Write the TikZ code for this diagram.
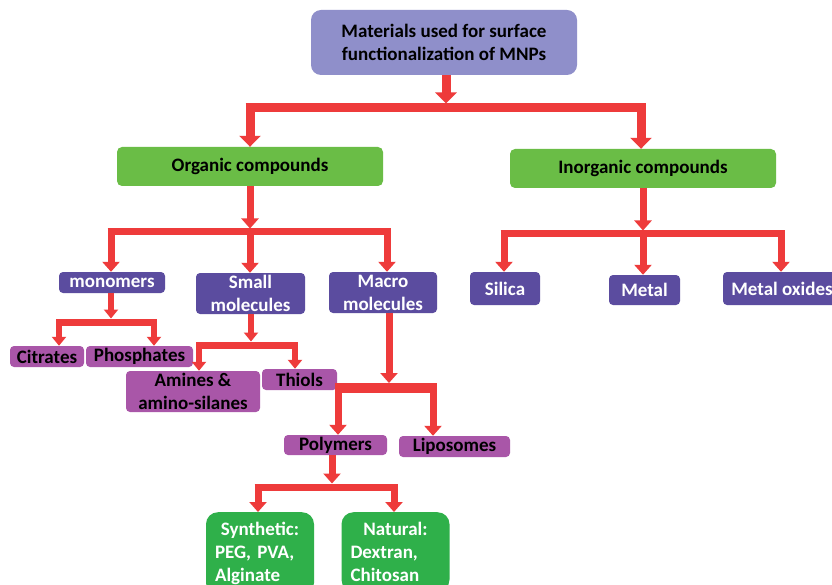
\documentclass[tikz,border=0pt]{standalone}
\usepackage{fontspec}
\setmainfont{Carlito}
\usetikzlibrary{arrows.meta}
\definecolor{arrred}{HTML}{EE3B3B}
\definecolor{topblue}{HTML}{8F8FCA}
\definecolor{orggreen}{HTML}{6ABD46}
\definecolor{deepgreen}{HTML}{2FB04A}
\definecolor{violetbox}{HTML}{5B4C9F}
\definecolor{magbox}{HTML}{A956A8}
\tikzset{
  box/.style={rounded corners=4pt, inner sep=0pt, align=center,
    font=\fontsize{19}{23}\selectfont\bfseries},
  topbox/.style={box, fill=topblue, text=black, rounded corners=10pt},
  greenbox/.style={box, fill=orggreen, text=black, rounded corners=5pt},
  vbox/.style={box, fill=violetbox, text=white},
  mbox/.style={box, fill=magbox, text=black},
  leafbox/.style={box, fill=deepgreen, text=white, rounded corners=12pt,
    anchor=north, align=left, inner xsep=9pt, inner ysep=10pt, text width=90pt},
  bigbar/.style={draw=arrred, line width=9pt},
  bar/.style={draw=arrred, line width=7pt},
  thickbar/.style={draw=arrred, line width=10pt},
  bigarr/.style={draw=arrred, line width=9pt, -{Triangle[width=21pt,length=11pt]}},
  arr/.style={draw=arrred, line width=7pt, -{Triangle[width=17pt,length=10pt]}},
  smallarr/.style={draw=arrred, line width=6pt, -{Triangle[width=14pt,length=9pt]}}
}
\begin{document}
\begin{tikzpicture}[x=1pt,y=-1pt]
\useasboundingbox (0,0) rectangle (832,585);
\clip (0,0) rectangle (832,585);
\fill[white] (0,0) rectangle (832,585);

% nodes
\node[topbox, minimum width=266pt, minimum height=65pt] (top) at (444,42.5)
  {Materials used for surface\\functionalization of MNPs};
\node[greenbox, minimum width=266pt, minimum height=39pt] (org) at (250,166.5) {Organic compounds};
\node[greenbox, minimum width=266pt, minimum height=39pt] (inorg) at (643,168.5) {Inorganic compounds};

\node[vbox, minimum width=106pt, minimum height=21pt] (mono) at (112,282.5) {monomers};
\node[vbox, minimum width=109pt, minimum height=41pt] (small) at (250.5,293.5) {Small\\molecules};
\node[vbox, minimum width=108pt, minimum height=41pt] (macro) at (383,292.5) {Macro\\molecules};
\node[vbox, minimum width=70pt, minimum height=33pt] (silica) at (505,288.5) {Silica};
\node[vbox, minimum width=71pt, minimum height=30pt] (metal) at (644.5,290) {Metal};
\node[vbox, minimum width=118pt, minimum height=33pt] (oxides) at (782,288.5) {Metal oxides};

\node[mbox, minimum width=74pt, minimum height=21pt] (citr) at (47,356.5) {Citrates};
\node[mbox, minimum width=107pt, minimum height=21pt] (phos) at (139.5,356.5) {Phosphates};
\node[mbox, minimum width=134pt, minimum height=41pt] (amin) at (193,391.5) {Amines \&\\amino-silanes};
\node[mbox, minimum width=75pt, minimum height=21pt] (thiol) at (299.5,379.5) {Thiols};
\node[mbox, minimum width=103pt, minimum height=20pt] (poly) at (335.5,445) {Polymers};
\node[mbox, minimum width=111pt, minimum height=21pt] (lipo) at (454.5,446.5) {Liposomes};

\node[leafbox] (synth) at (260,512)
  {\makebox[\linewidth]{Synthetic:}\\PEG, PVA,\\Alginate};
\node[leafbox] (natur) at (395.5,512)
  {\makebox[\linewidth]{Natural:}\\Dextran,\\Chitosan};

% level 1
\coordinate (j1) at (446,103.5);
\coordinate (b1l) at (250,108);
\coordinate (b1r) at (641,108);
\draw[bigarr] (top.south -| j1) -- (j1);
\draw[bigbar] ([xshift=-4.5pt]b1l) -- ([xshift=4.5pt]b1r);
\draw[bigarr] (b1l) -- (b1l |- org.north);
\draw[bigarr] (b1r) -- (b1r |- inorg.north);

% organic
\coordinate (j2) at (250,228.5);
\coordinate (b2l) at (111,232);
\coordinate (b2m) at (250,232);
\coordinate (b2r) at (387,232);
\draw[arr] (org.south -| j2) -- (j2);
\draw[bar] ([xshift=-3.5pt]b2l) -- ([xshift=3.5pt]b2r);
\draw[arr] (b2l) -- (b2l |- mono.north);
\draw[arr] (b2m) -- (b2m |- small.north);
\draw[arr] (b2r) -- (b2r |- macro.north);

% inorganic
\coordinate (j3) at (643,230.5);
\coordinate (b3l) at (504,234);
\coordinate (b3m) at (643,234);
\coordinate (b3r) at (781,234);
\draw[arr] (inorg.south -| j3) -- (j3);
\draw[bar] ([xshift=-3.5pt]b3l) -- ([xshift=3.5pt]b3r);
\draw[arr] (b3l) -- (b3l |- silica.north);
\draw[arr] (b3m) -- (b3m |- metal.north);
\draw[arr] (b3r) -- (b3r |- oxides.north);

% monomers
\coordinate (j4) at (111,318.5);
\coordinate (b4l) at (59,322);
\coordinate (b4r) at (154,322);
\draw[smallarr] (mono.south -| j4) -- (j4);
\draw[bar] ([xshift=-3pt]b4l) -- ([xshift=3pt]b4r);
\draw[smallarr] (b4l) -- (b4l |- citr.north);
\draw[smallarr] (b4r) -- (b4r |- phos.north);

% small molecules
\coordinate (j5) at (251,341.5);
\coordinate (b5l) at (199,345);
\coordinate (b5r) at (295,345);
\draw[smallarr] (small.south -| j5) -- (j5);
\draw[bar] ([xshift=-3pt]b5l) -- ([xshift=3pt]b5r);
\draw[smallarr] (b5l) -- (b5l |- amin.north);
\draw[smallarr] (b5r) -- (b5r |- thiol.north);

% macro molecules
\coordinate (j6) at (389,383);
\coordinate (b6l) at (338,388);
\coordinate (b6r) at (433,388);
\draw[arr] (macro.south -| j6) -- (j6);
\draw[thickbar] ([xshift=-3.5pt]b6l) -- ([xshift=3.5pt]b6r);
\draw[arr] (b6l) -- (b6l |- poly.north);
\draw[arr] (b6r) -- (b6r |- lipo.north);

% polymers
\coordinate (j7) at (332,483.5);
\coordinate (b7l) at (258,487);
\coordinate (b7r) at (394,487);
\draw[arr] (poly.south -| j7) -- (j7);
\draw[bar] ([xshift=-3.5pt]b7l) -- ([xshift=3.5pt]b7r);
\draw[arr] (b7l) -- (b7l |- synth.north);
\draw[arr] (b7r) -- (b7r |- natur.north);
\end{tikzpicture}
\end{document}
